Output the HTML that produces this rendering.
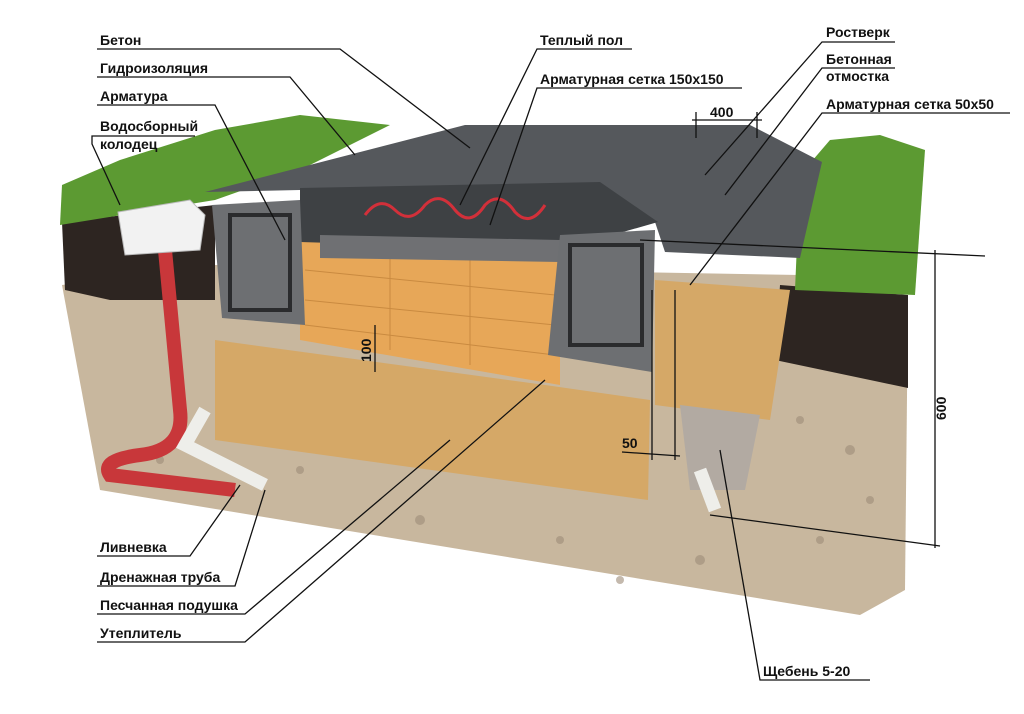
<!DOCTYPE html>
<html><head><meta charset="utf-8"><style>
body{margin:0;background:#fff;}
svg text{font-family:"Liberation Sans",sans-serif;font-weight:bold;font-size:14px;fill:#111;}
</style></head><body>
<svg width="1024" height="709" viewBox="0 0 1024 709" xmlns="http://www.w3.org/2000/svg">
<!-- gravel block -->
<polygon points="62,285 215,265 800,275 908,300 905,590 860,615 100,490" fill="#c8b79e"/>
<g fill="#9d8c78" opacity="0.6">
<circle cx="300" cy="470" r="4"/><circle cx="420" cy="520" r="5"/><circle cx="560" cy="540" r="4"/><circle cx="700" cy="560" r="5"/><circle cx="820" cy="540" r="4"/><circle cx="850" cy="450" r="5"/><circle cx="800" cy="420" r="4"/><circle cx="160" cy="460" r="4"/><circle cx="620" cy="580" r="4"/><circle cx="870" cy="500" r="4"/>
</g>
<!-- soil -->
<polygon points="62,222 215,205 215,300 110,300 65,290" fill="#2d2521"/>
<polygon points="780,285 908,295 908,388 775,360" fill="#2d2521"/>
<!-- grass -->
<polygon points="60,225 62,185 120,160 215,130 300,115 390,125 300,170 215,200" fill="#5c9a32"/>
<polygon points="795,290 800,175 830,140 880,135 925,150 915,295" fill="#5c9a32"/>
<!-- sand -->
<polygon points="215,340 545,385 650,400 648,500 215,440" fill="#d5a867"/>
<polygon points="655,280 790,290 770,420 655,405" fill="#d5a867"/>
<!-- gravel trench right -->
<polygon points="680,405 760,415 745,490 690,490" fill="#b2aaa2"/>
<!-- insulation -->
<polygon points="300,240 560,260 560,385 300,340" fill="#e7a758"/>
<g stroke="#c98a40" stroke-width="1">
<line x1="305" y1="270" x2="555" y2="295"/><line x1="305" y1="300" x2="555" y2="325"/><line x1="305" y1="325" x2="555" y2="355"/>
<line x1="390" y1="250" x2="390" y2="350"/><line x1="470" y1="255" x2="470" y2="365"/>
</g>
<!-- top slab -->
<polygon points="205,192 465,125 750,125 822,162 800,258 665,252 655,222 300,212 300,190" fill="#55585c"/>
<polygon points="300,188 600,182 658,222 560,250 300,242" fill="#3e4144"/>
<polygon points="320,235 560,240 560,262 320,258" fill="#6f7073"/>
<!-- beams -->
<polygon points="212,205 300,200 305,325 222,318" fill="#6d6f72"/>
<rect x="230" y="215" width="60" height="95" fill="none" stroke="#2a2b2d" stroke-width="4"/>
<polygon points="560,235 655,230 652,372 548,355" fill="#6d6f72"/>
<rect x="570" y="245" width="72" height="100" fill="none" stroke="#2a2b2d" stroke-width="4"/>
<!-- heating pipe -->
<path d="M365,215 Q380,195 395,210 Q410,225 425,205 Q440,190 455,210 Q470,228 485,205 Q500,190 515,212 Q530,228 545,205" fill="none" stroke="#d2303a" stroke-width="3"/>
<!-- pipes -->
<path d="M165,250 L180,410 Q185,450 140,455 Q100,460 110,475 L235,490" fill="none" stroke="#c8373a" stroke-width="14"/>
<path d="M205,410 L185,445 L265,485" fill="none" stroke="#eeeeea" stroke-width="13"/>
<path d="M700,470 L715,510" stroke="#eeeeea" stroke-width="13"/>
<!-- collector box -->
<polygon points="118,212 190,200 205,215 200,250 125,255" fill="#f2f2f2" stroke="#bbb"/>
<!-- leaders -->
<g stroke="#111" stroke-width="1.3" fill="none">
<polyline points="97,49 340,49 470,148"/>
<polyline points="97,77 290,77 355,155"/>
<polyline points="97,105 215,105 285,240"/>
<polyline points="195,136 92,136 92,144 120,205"/>
<polyline points="632,49 537,49 460,205"/>
<polyline points="742,88 537,88 490,225"/>
<polyline points="895,42 822,42 705,175"/>
<polyline points="895,68 822,68 725,195"/>
<polyline points="1010,113 822,113 690,285"/>
<polyline points="97,556 190,556 240,485"/>
<polyline points="97,586 235,586 265,490"/>
<polyline points="97,614 245,614 450,440"/>
<polyline points="97,642 245,642 545,380"/>
<polyline points="870,680 760,680 720,450"/>
<line x1="692" y1="120" x2="762" y2="120"/><line x1="696" y1="112" x2="696" y2="138"/><line x1="757" y1="112" x2="757" y2="138"/>
<line x1="935" y1="250" x2="935" y2="548"/><line x1="640" y1="240" x2="985" y2="256"/><line x1="710" y1="515" x2="940" y2="546"/>
<line x1="375" y1="325" x2="375" y2="372"/><line x1="622" y1="452" x2="680" y2="456"/>
<line x1="652" y1="290" x2="652" y2="460"/><line x1="675" y1="290" x2="675" y2="460"/>
</g>
<text x="100" y="45">Бетон</text>
<text x="100" y="73">Гидроизоляция</text>
<text x="100" y="101">Арматура</text>
<text x="100" y="131">Водосборный</text>
<text x="100" y="149">колодец</text>
<text x="540" y="45">Теплый пол</text>
<text x="540" y="84">Арматурная сетка 150х150</text>
<text x="826" y="37">Ростверк</text>
<text x="826" y="64">Бетонная</text>
<text x="826" y="81">отмостка</text>
<text x="826" y="109">Арматурная сетка 50х50</text>
<text x="710" y="117">400</text>
<text x="622" y="448">50</text>
<text x="0" y="0" transform="translate(371,362) rotate(-90)">100</text>
<text x="0" y="0" transform="translate(946,420) rotate(-90)">600</text>
<text x="100" y="552">Ливневка</text>
<text x="100" y="582">Дренажная труба</text>
<text x="100" y="610">Песчанная подушка</text>
<text x="100" y="638">Утеплитель</text>
<text x="763" y="676">Щебень 5-20</text>
</svg>
</body></html>
